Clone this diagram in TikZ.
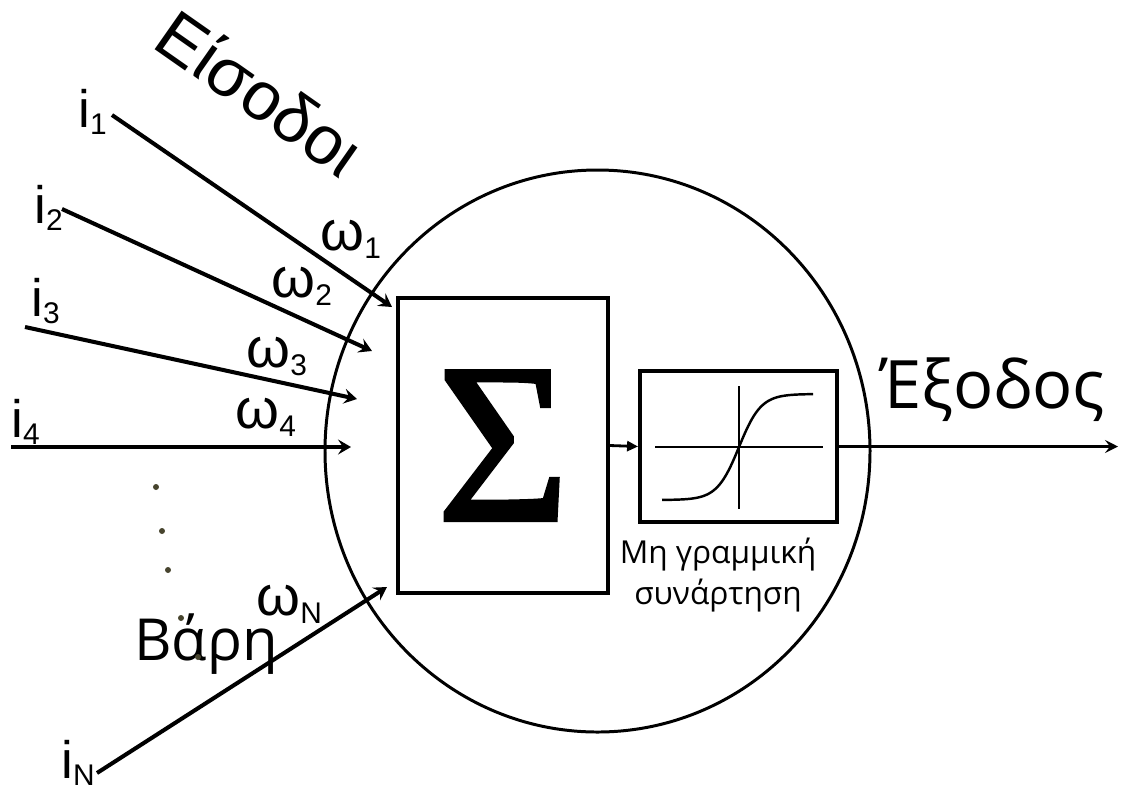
\documentclass[tikz,border=0pt]{standalone}
\usepackage{fontspec}
\setmainfont{Liberation Sans}
\newfontfamily\opensans{Open Sans}
\newfontfamily\serifsum[FakeBold=1.5]{Liberation Serif}
\usetikzlibrary{arrows.meta,positioning}

\newcommand{\isub}[2]{#1{\fontsize{17}{17}\selectfont\raisebox{-4pt}{#2}}}
\newcommand{\wsub}[1]{ω{\fontsize{17}{17}\selectfont\raisebox{-5pt}{#1}}}

\begin{document}
\begin{tikzpicture}[x=0.02cm,y=-0.02cm,
        inarrow/.style={line width=2.3pt,-{Stealth[length=0.26cm,width=0.3cm,inset=0.1cm]}},
        inlabel/.style={anchor=base west,inner sep=0pt,font=\fontsize{30}{30}\selectfont},
        wlabel/.style={anchor=base west,inner sep=0pt,font=\fontsize{32}{32}\selectfont},
        bigtext/.style={inner sep=0pt,font=\opensans\fontsize{38}{38}\selectfont},
        box/.style={draw,line width=2.2pt,inner sep=0pt},
        wdot/.style={fill=olive!35!black}]
        \useasboundingbox (0,0) rectangle (1122,789);

        % neuron body
        \draw[line width=1.7pt] (597.5,451) ellipse [x radius=272.5, y radius=281];
        \node[box,minimum width=4.2cm,minimum height=5.9cm,font=\serifsum\fontsize{130}{130}\selectfont] (sumbox) at (503,445.5) {Σ};
        \node[box,minimum width=3.94cm,minimum height=3.02cm] (actbox) at (738.5,446.5) {};
        \draw[line width=1.1pt] (655,447) -- (823,447);
        \draw[line width=1.1pt] (739,386) -- (739,509);
        \draw[line width=1.4pt,domain=662:813,samples=80,smooth] plot ({\x},{447-53*tanh((\x-739)/22)});
        \draw[line width=1.6pt,-{Triangle[length=0.22cm,width=0.2cm]}] (sumbox.east) -- (actbox.west);
        \node[align=center,anchor=north,inner sep=0pt,font=\opensans\fontsize{18}{23}\selectfont] (actlabel) at (718,538) {Μη γραμμική\\συνάρτηση};

        % output
        \coordinate (out) at (1118,446.5);
        \draw[line width=1.7pt,-{Stealth[length=0.26cm,width=0.26cm,inset=0.1cm]}] (actbox.east) -- (out);
        \node[bigtext,anchor=base west] (output) at (880,408) {Έξοδος};

        % inputs
        \coordinate (s1) at (112,115);
        \coordinate (e1) at (392,307);
        \coordinate (s2) at (62,209);
        \coordinate (e2) at (372,351);
        \coordinate (s3) at (25,327);
        \coordinate (e3) at (357,399);
        \coordinate (s4) at (11,447);
        \coordinate (e4) at (351,447);
        \coordinate (sN) at (97,773);
        \coordinate (eN) at (387,587);
        \draw[inarrow] (s1) -- (e1);
        \draw[inarrow] (s2) -- (e2);
        \draw[inarrow] (s3) -- (e3);
        \draw[inarrow] (s4) -- (e4);
        \draw[inarrow] (sN) -- (eN);

        \node[inlabel] (in1) at (78,127) {\isub{i}{1}};
        \node[inlabel] (in2) at (34,223) {\isub{i}{2}};
        \node[inlabel] (in3) at (31,316) {\isub{i}{3}};
        \node[inlabel] (in4) at (11,437) {\isub{i}{4}};
        \node[inlabel] (inN) at (61,778) {\isub{i}{N}};

        \node[wlabel] (w1) at (320,250) {\wsub{1}};
        \node[wlabel] (w2) at (271,297) {\wsub{2}};
        \node[wlabel] (w3) at (246,367) {\wsub{3}};
        \node[wlabel] (w4) at (235,428) {\wsub{4}};
        \node[wlabel] (wN) at (256,615) {\wsub{N}};

        \node[inner sep=0pt,anchor=base,rotate=-35,font=\fontsize{39}{39}\selectfont] (inputs) at (246,113) {Είσοδοι};
        \node[bigtext,anchor=base west,font=\opensans\fontsize{33}{33}\selectfont] (weights) at (134,660) {Βάρη};

        % dots
        \foreach \p in {(156,487),(162,531),(168,570),(181,618),(198,657)}
            \fill[wdot] \p circle (3);

\end{tikzpicture}
\end{document}
